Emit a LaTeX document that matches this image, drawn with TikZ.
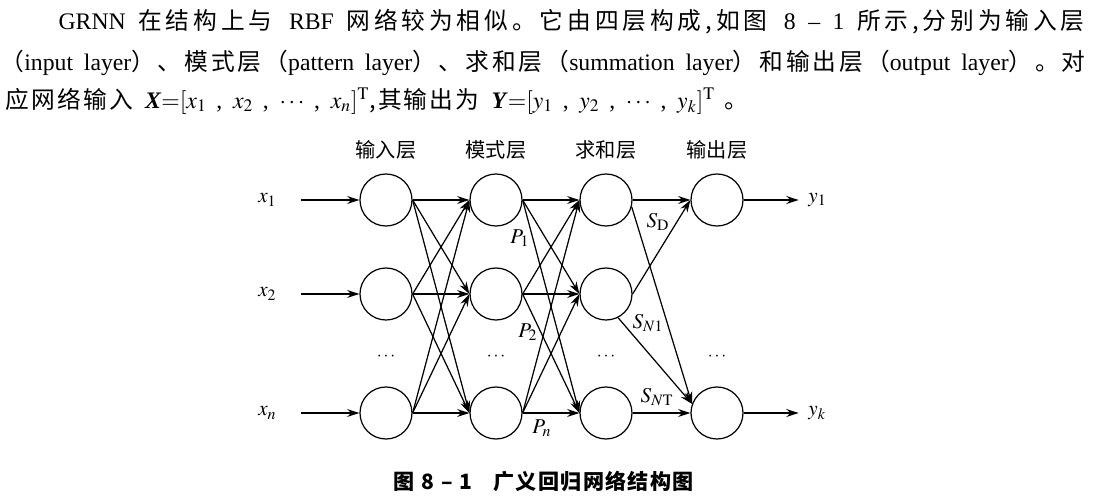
\documentclass[tikz,border=0pt]{standalone}
\usepackage{mathptmx}
\usepackage[no-math]{fontspec}
\setmainfont{Liberation Serif}
\newfontfamily\zhfont{Noto Sans CJK SC}
\usetikzlibrary{arrows.meta,positioning}
\tikzset{
  every picture/.style={line join=round, >={Stealth[length=7pt,width=4.5pt]}},
  neuron/.style={circle, draw, minimum size=1.04cm, inner sep=0pt},
  layer/.style={font=\zhfont\fontsize{11.5}{13}\selectfont},
  lbl/.style={font=\fontsize{12}{14}\selectfont, inner sep=1pt},
  para/.style={font=\fontsize{13.5}{16}\selectfont, inner sep=0pt, anchor=west},
  caption/.style={font=\zhfont\bfseries\fontsize{12}{14}\selectfont, inner sep=0pt},
}
% glue between the CJK characters, so that a line can be spread
\let\zsend\relax
\def\zs#1{\zsloop#1\zsend}
\def\zsloop#1{\ifx#1\zsend\else#1\hskip0pt plus1pt\relax\expandafter\zsloop\fi}
\newcommand\zh[1]{{\zhfont\zs{#1}}}
\newcommand\zo{{\zhfont （}}

\begin{document}
\begin{tikzpicture}[->, line width=0.7pt]
\useasboundingbox (0,0) rectangle (21.88,9.98);
% text above the figure
\node[para] (l1) at (1.16,9.54) {\makebox[20.6cm][s]{GRNN \zh{在结构上与} RBF \zh{网络较为相似。它由四层构成,如图} 8 -- 1 \zh{所示,分别为输入层}}};
\node[para] (l2) at (0,8.72) {\makebox[21.76cm][s]{\zo input layer\zh{）、模式层}\zo pattern layer\zh{）、求和层}\zo summation layer\zh{）和输出层}\zo output layer\zh{）。对}}};
\node[para] (l3) at (0.1,7.96) {\makebox[14.9cm][s]{\zh{应网络输入} \textbf{\textit{X}}${=}[x_1$ , $x_2$ , $\cdots$ , $x_n]^{\mathrm{T}}$\zh{,其输出为} \textbf{\textit{Y}}${=}[y_1$ , $y_2$ , $\cdots$ , $y_k]^{\mathrm{T}}$ \zh{。}}};
% layers
\foreach \l/\x/\t in {i/7.72/输入层, p/9.92/模式层, s/12.12/求和层}{
  \node[layer] (t\l) at (\x,6.98) {\t};
  \node[neuron] (\l1) at (\x,5.98) {};
  \node[neuron] (\l2) at (\x,4.10) {};
  \node[neuron] (\l3) at (\x,1.72) {};
  \node (d\l) at (\x,2.84) {$\cdots$};
}
\node[layer] (to) at (14.34,6.98) {输出层};
\node[neuron] (o1) at (14.34,5.98) {};
\node[neuron] (o3) at (14.34,1.72) {};
\node (do) at (14.34,2.84) {$\cdots$};
% inputs and outputs
\foreach \r/\t in {1/x_1, 2/x_2, 3/x_n}{
  \coordinate[left=1.16cm of i\r.west] (a\r);
  \node[lbl, left=0.45cm of a\r] (x\r) {$\t$};
  \draw (a\r) -- (i\r);
}
\foreach \r/\t in {1/y_1, 3/y_k}{
  \coordinate[right=1.1cm of o\r.east] (b\r);
  \node[lbl, right=0.15cm of b\r] (y\r) {$\t$};
  \draw (o\r) -- (b\r);
}
% full connections
\foreach \a in {1,2,3}{\foreach \b in {1,2,3}{
  \draw (i\a.east) -- (p\b.west);
  \draw (p\a.east) -- (s\b.west);
}}
\draw (s1.east) -- (o1.west);
\draw (s1.-15) -- (o3.160);
\draw (s2.east) -- (o1.west);
\draw (s2.-63) -- (o3.160);
\draw (s3.east) -- (o3.west);
\node[lbl] (P1) at (10.40,5.22) {$P_1$};
\node[lbl] (P2) at (10.56,3.34) {$P_2$};
\node[lbl] (Pn) at (10.84,1.42) {$P_n$};
\node[lbl] (SD) at (13.16,5.54) {$S_{\mathrm{D}}$};
\node[lbl] (SN1) at (12.96,3.52) {$S_{N1}$};
\node[lbl] (SNT) at (13.14,2.04) {$S_{N\mathrm{T}}$};
% caption
\node[caption] (cap) at (10.88,0.36) {\makebox[6.04cm][s]{\zs{图} 8 – 1\quad \zs{广义回归网络结构图}}};
\end{tikzpicture}
\end{document}
